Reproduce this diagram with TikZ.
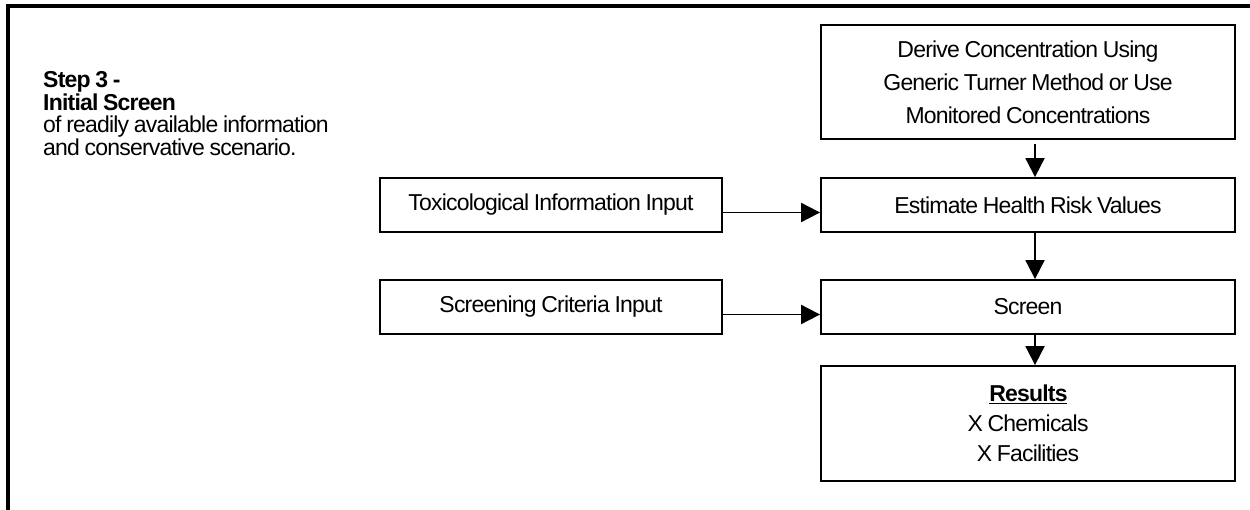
\documentclass[tikz,border=0pt]{standalone}
\usepackage{fontspec}
\setmainfont{Liberation Sans}[LetterSpace=-3.5,WordSpace=0.85]
\usetikzlibrary{arrows.meta}
\begin{document}
\begin{tikzpicture}[x=1pt,y=-1pt,
  box/.style={draw, line width=1.8pt, minimum height=54pt, inner sep=0pt, align=flush center, font=\fontsize{23}{33}\selectfont},
  arr/.style={line width=1.9pt, -{Triangle[length=19pt,width=19pt]}},
  frame/.style={line width=4pt},
  note/.style={anchor=base west, inner sep=0pt, text width=320pt, align=flush left, font=\fontsize{23}{22.5}\selectfont},
]
\useasboundingbox (0,0) rectangle (1250,510);
\draw[frame] (8,510) -- (8,6.5) -- (1250,6.5);
\node[note] (stepnote) at (43,88) {\textbf{Step 3 -}\\\textbf{Initial Screen}\\of readily available information\\and conservative scenario.};

\node[box, minimum width=414pt, minimum height=114pt, text width=400pt] (derive) at (1028,82) {Derive Concentration Using\\Generic Turner Method or Use\\Monitored Concentrations};
\node[box, minimum width=414pt] (est) at (1028,205) {Estimate Health Risk Values};
\node[box, minimum width=414pt] (screen) at (1028,307) {Screen};
\node[box, minimum width=414pt, minimum height=115pt, text width=400pt, font=\fontsize{23}{30}\selectfont] (results) at (1028,423.5) {\underline{\textbf{Results}}\\X Chemicals\\X Facilities};
\node[box, minimum width=342pt] (tox) at (551,205) {Toxicological Information Input};
\node[box, minimum width=342pt] (crit) at (551,307) {Screening Criteria Input};

\draw[arr] ([shift={(7pt,-4pt)}]derive.south) -- ([xshift=7pt]est.north);
\draw[arr] ([xshift=7pt]est.south) -- ([xshift=7pt]screen.north);
\draw[arr] ([xshift=7pt]screen.south) -- ([xshift=7pt]results.north);
\draw[arr] ([yshift=-7.5pt]tox.east) -- ([yshift=-7.5pt]est.west);
\draw[arr] ([yshift=-7.5pt]crit.east) -- ([yshift=-7.5pt]screen.west);
\end{tikzpicture}
\end{document}
